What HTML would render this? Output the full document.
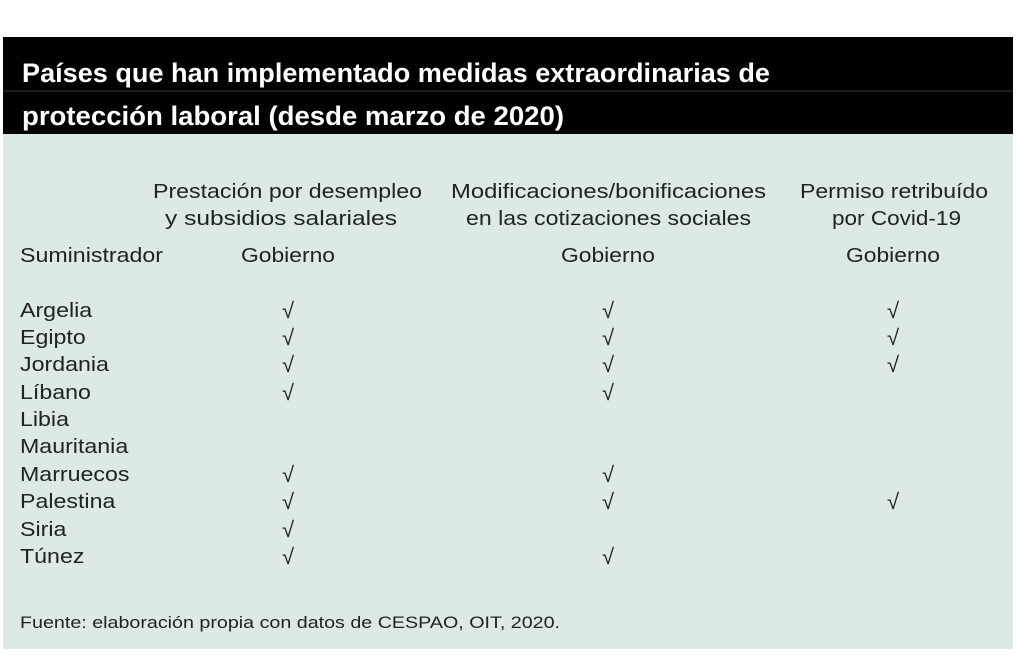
<!DOCTYPE html>
<html><head><meta charset="utf-8"><style>
html,body{margin:0;padding:0;background:#fff;width:1024px;height:669px;overflow:hidden}
svg{display:block}
</style></head><body>
<svg width="1024" height="669" xmlns="http://www.w3.org/2000/svg" font-family="Liberation Sans, DejaVu Sans, sans-serif">
<rect x="0" y="0" width="1024" height="669" fill="#fff"/>
<rect x="3" y="37" width="1010" height="97" fill="#000"/>
<line x1="3" y1="91" x2="1013" y2="91" stroke="#3a3a3a" stroke-width="1"/>
<rect x="3" y="134" width="1010" height="515" fill="#dceae3"/>
<g fill="#fff" font-weight="bold" font-size="27">
<text x="22" y="82" textLength="748" lengthAdjust="spacingAndGlyphs">Países que han implementado medidas extraordinarias de</text>
<text x="22" y="125" textLength="542" lengthAdjust="spacingAndGlyphs">protección laboral (desde marzo de 2020)</text>
</g>
<g fill="#222" font-size="20">
<text x="153" y="198" textLength="269" lengthAdjust="spacingAndGlyphs">Prestación por desempleo</text>
<text x="165" y="225" textLength="232" lengthAdjust="spacingAndGlyphs">y subsidios salariales</text>
<text x="451" y="198" textLength="315" lengthAdjust="spacingAndGlyphs">Modificaciones/bonificaciones</text>
<text x="466" y="225" textLength="285" lengthAdjust="spacingAndGlyphs">en las cotizaciones sociales</text>
<text x="800" y="198" textLength="188" lengthAdjust="spacingAndGlyphs">Permiso retribuído</text>
<text x="832" y="225" textLength="129" lengthAdjust="spacingAndGlyphs">por Covid-19</text>
<text x="241" y="262" textLength="94" lengthAdjust="spacingAndGlyphs">Gobierno</text>
<text x="561" y="262" textLength="94" lengthAdjust="spacingAndGlyphs">Gobierno</text>
<text x="846" y="262" textLength="94" lengthAdjust="spacingAndGlyphs">Gobierno</text>
</g>
<g fill="#222" font-size="20" transform="translate(20,0) scale(1.16,1)">
<text x="0" y="262">Suministrador</text>
<text x="0" y="317">Argelia</text>
<text x="0" y="344">Egipto</text>
<text x="0" y="371">Jordania</text>
<text x="0" y="399">Líbano</text>
<text x="0" y="426">Libia</text>
<text x="0" y="453">Mauritania</text>
<text x="0" y="481">Marruecos</text>
<text x="0" y="508">Palestina</text>
<text x="0" y="536">Siria</text>
<text x="0" y="563">Túnez</text>
</g>
<g fill="#222" font-size="22" text-anchor="middle">
<text x="288" y="318">√</text><text x="608" y="318">√</text><text x="893" y="318">√</text>
<text x="288" y="345">√</text><text x="608" y="345">√</text><text x="893" y="345">√</text>
<text x="288" y="372">√</text><text x="608" y="372">√</text><text x="893" y="372">√</text>
<text x="288" y="400">√</text><text x="608" y="400">√</text>
<text x="288" y="482">√</text><text x="608" y="482">√</text>
<text x="288" y="509">√</text><text x="608" y="509">√</text><text x="893" y="509">√</text>
<text x="288" y="537">√</text>
<text x="288" y="564">√</text><text x="608" y="564">√</text>
</g>
<text x="20" y="628" fill="#222" font-size="17" textLength="540" lengthAdjust="spacingAndGlyphs">Fuente: elaboración propia con datos de CESPAO, OIT, 2020.</text>
</svg>
</body></html>
